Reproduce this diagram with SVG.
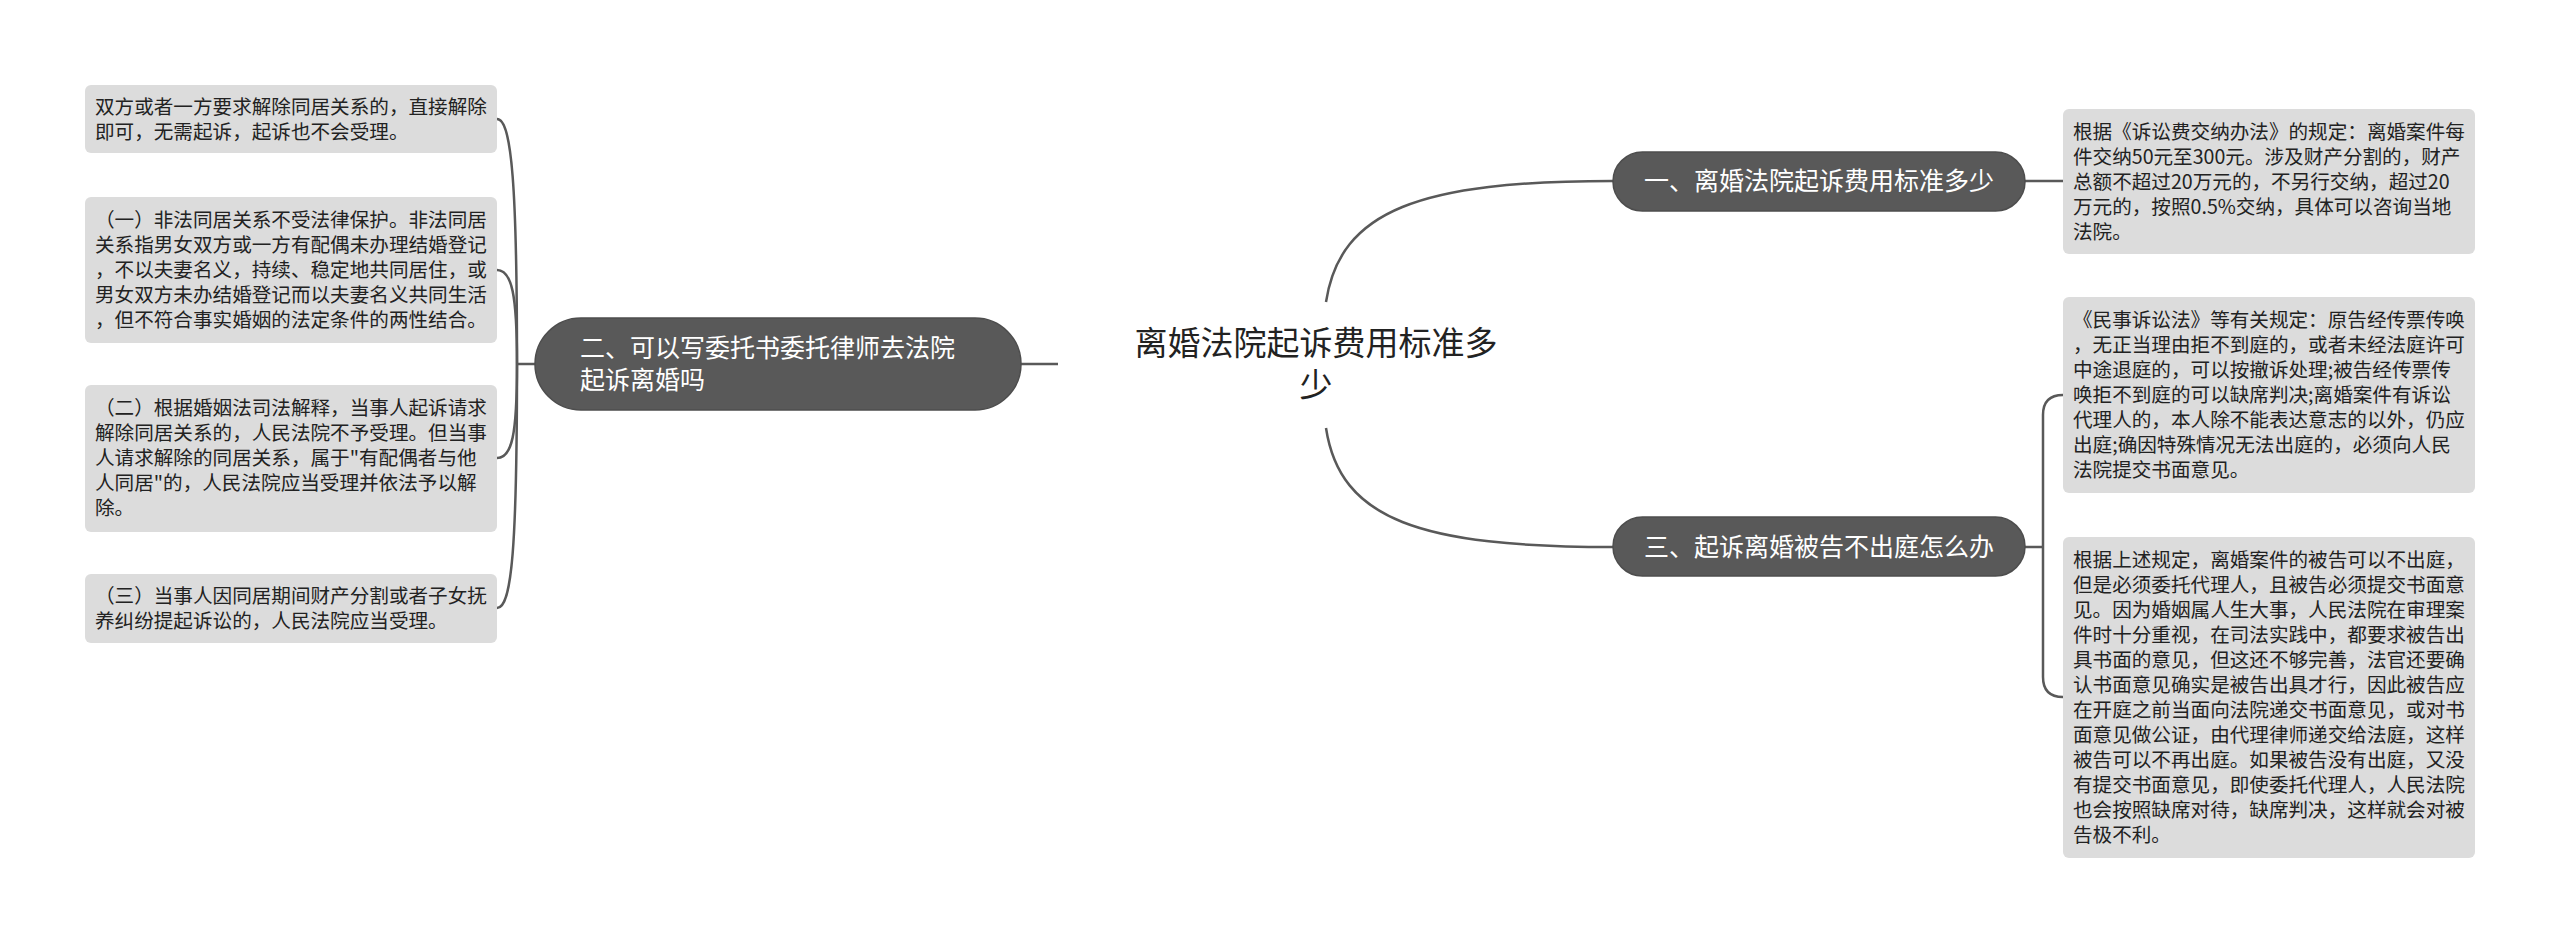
<svg xmlns="http://www.w3.org/2000/svg" width="2560" height="944" viewBox="0 0 2560 944">
<style>
.bg{fill:#ffffff}
.pill{fill:#595959;stroke:#4d4d4d;stroke-width:1.5}
.leaf{fill:#dcdcdc}
.pt{font-family:"Noto Sans CJK SC","Noto Sans",sans-serif;font-size:25px;fill:#ffffff}
.lt{font-family:"Noto Sans CJK SC","Noto Sans",sans-serif;font-size:19.6px;fill:#222222}
.ct{font-family:"Noto Sans CJK SC","Noto Sans",sans-serif;font-size:33px;fill:#222222}
.ln{fill:none;stroke:#595959;stroke-width:2.5}
</style>
<rect class="bg" x="0" y="0" width="2560" height="944"/>
<g id="connectors">
<path class="ln" d="M1021,364 L1058,364"/>
<path class="ln" d="M535,364 L517,364"/>
<path class="ln" d="M517,364 C517,190 512,119 497,119"/>
<path class="ln" d="M517,364 C517,295 512,270 497,270"/>
<path class="ln" d="M517,364 C517,435 512,458 497,458"/>
<path class="ln" d="M517,364 C517,545 512,608 497,608"/>
<path class="ln" d="M1326,302 C1340,210 1420,181 1613,181"/>
<path class="ln" d="M1326,428 C1340,520 1420,547 1613,547"/>
<path class="ln" d="M2025,181 L2063,181"/>
<path class="ln" d="M2025,547 L2043,547"/>
<path class="ln" d="M2043,547 L2043,415 Q2043,395 2063,395"/>
<path class="ln" d="M2043,547 L2043,677 Q2043,697 2063,697"/>
</g>
<g id="center">
<text class="ct" text-anchor="middle"><tspan x="1316" y="355">离婚法院起诉费用标准多</tspan><tspan x="1316" y="397">少</tspan></text>
</g>
<g id="node-left-main">
<rect class="pill" x="535" y="318" width="486" height="92" rx="46"/>
<text class="pt"><tspan x="580" y="357">二、可以写委托书委托律师去法院</tspan><tspan x="580" y="389">起诉离婚吗</tspan></text>
</g>
<g id="leaf-l1">
<rect class="leaf" x="85" y="85" width="412" height="68" rx="6"/>
<text class="lt" x="95" y="114">双方或者一方要求解除同居关系的，直接解除</text>
<text class="lt" x="95" y="139">即可，无需起诉，起诉也不会受理。</text>
</g>
<g id="leaf-l2">
<rect class="leaf" x="85" y="197" width="412" height="146" rx="6"/>
<text class="lt" x="95" y="227">（一）非法同居关系不受法律保护。非法同居</text>
<text class="lt" x="95" y="252">关系指男女双方或一方有配偶未办理结婚登记</text>
<text class="lt" x="95" y="277">，不以夫妻名义，持续、稳定地共同居住，或</text>
<text class="lt" x="95" y="302">男女双方未办结婚登记而以夫妻名义共同生活</text>
<text class="lt" x="95" y="327">，但不符合事实婚姻的法定条件的两性结合。</text>
</g>
<g id="leaf-l3">
<rect class="leaf" x="85" y="385" width="412" height="147" rx="6"/>
<text class="lt" x="95" y="415">（二）根据婚姻法司法解释，当事人起诉请求</text>
<text class="lt" x="95" y="440">解除同居关系的，人民法院不予受理。但当事</text>
<text class="lt" x="95" y="465">人请求解除的同居关系，属于"有配偶者与他</text>
<text class="lt" x="95" y="490">人同居"的，人民法院应当受理并依法予以解</text>
<text class="lt" x="95" y="515">除。</text>
</g>
<g id="leaf-l4">
<rect class="leaf" x="85" y="574" width="412" height="69" rx="6"/>
<text class="lt" x="95" y="603">（三）当事人因同居期间财产分割或者子女抚</text>
<text class="lt" x="95" y="628">养纠纷提起诉讼的，人民法院应当受理。</text>
</g>
<g id="node-r1">
<rect class="pill" x="1613" y="152" width="412" height="59" rx="29.5"/>
<text class="pt" x="1819" y="190" text-anchor="middle">一、离婚法院起诉费用标准多少</text>
</g>
<g id="node-r3">
<rect class="pill" x="1613" y="517" width="412" height="59" rx="29.5"/>
<text class="pt" x="1819" y="556" text-anchor="middle">三、起诉离婚被告不出庭怎么办</text>
</g>
<g id="leaf-r1">
<rect class="leaf" x="2063" y="109" width="412" height="145" rx="6"/>
<text class="lt" x="2073" y="139">根据《诉讼费交纳办法》的规定：离婚案件每</text>
<text class="lt" x="2073" y="164">件交纳50元至300元。涉及财产分割的，财产</text>
<text class="lt" x="2073" y="189">总额不超过20万元的，不另行交纳，超过20</text>
<text class="lt" x="2073" y="214">万元的，按照0.5%交纳，具体可以咨询当地</text>
<text class="lt" x="2073" y="239">法院。</text>
</g>
<g id="leaf-r2">
<rect class="leaf" x="2063" y="297" width="412" height="196" rx="6"/>
<text class="lt" x="2073" y="327">《民事诉讼法》等有关规定：原告经传票传唤</text>
<text class="lt" x="2073" y="352">，无正当理由拒不到庭的，或者未经法庭许可</text>
<text class="lt" x="2073" y="377">中途退庭的，可以按撤诉处理;被告经传票传</text>
<text class="lt" x="2073" y="402">唤拒不到庭的可以缺席判决;离婚案件有诉讼</text>
<text class="lt" x="2073" y="427">代理人的，本人除不能表达意志的以外，仍应</text>
<text class="lt" x="2073" y="452">出庭;确因特殊情况无法出庭的，必须向人民</text>
<text class="lt" x="2073" y="477">法院提交书面意见。</text>
</g>
<g id="leaf-r3">
<rect class="leaf" x="2063" y="537" width="412" height="321" rx="6"/>
<text class="lt" x="2073" y="567">根据上述规定，离婚案件的被告可以不出庭，</text>
<text class="lt" x="2073" y="592">但是必须委托代理人，且被告必须提交书面意</text>
<text class="lt" x="2073" y="617">见。因为婚姻属人生大事，人民法院在审理案</text>
<text class="lt" x="2073" y="642">件时十分重视，在司法实践中，都要求被告出</text>
<text class="lt" x="2073" y="667">具书面的意见，但这还不够完善，法官还要确</text>
<text class="lt" x="2073" y="692">认书面意见确实是被告出具才行，因此被告应</text>
<text class="lt" x="2073" y="717">在开庭之前当面向法院递交书面意见，或对书</text>
<text class="lt" x="2073" y="742">面意见做公证，由代理律师递交给法庭，这样</text>
<text class="lt" x="2073" y="767">被告可以不再出庭。如果被告没有出庭，又没</text>
<text class="lt" x="2073" y="792">有提交书面意见，即使委托代理人，人民法院</text>
<text class="lt" x="2073" y="817">也会按照缺席对待，缺席判决，这样就会对被</text>
<text class="lt" x="2073" y="842">告极不利。</text>
</g>
</svg>
